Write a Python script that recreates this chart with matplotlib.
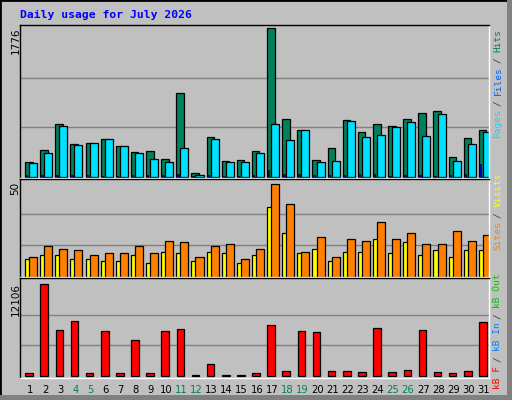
import matplotlib
matplotlib.use("Agg")
import matplotlib.pyplot as plt
from matplotlib.patches import Rectangle

days = list(range(1, 32))
hits = [183,326,635,397,409,457,365,302,314,218,1004,52,480,195,206,314,
        1776,695,564,206,349,683,540,635,611,695,766,790,242,469,564]
files = [171,290,611,385,409,457,365,290,218,183,349,28,457,183,183,290,
         635,445,564,183,195,671,480,504,599,659,492,754,195,397,540]
pages = [20,25,25,20,20,15,15,25,20,25,30,10,25,15,15,20,
         87,40,30,25,20,20,30,35,15,20,25,15,20,30,150]
visits = [9.2,11.3,11.3,9.2,9.2,8.2,8.2,11.3,7.1,12.9,12.4,8.2,12.9,12.4,7.1,11.3,
          36.9,23,12.4,15,8.2,12.9,12.9,19.9,12.4,18.3,11.3,14,10.3,14,14]
sites = [10.3,16.1,15,14,11.3,12.4,12.4,16.1,12.4,18.8,18.3,10.3,16.1,17.2,9.2,15,
         49.1,38.5,12.9,20.9,10.3,19.9,18.8,28.9,19.9,23,17.2,17.2,24.1,18.8,22]
kbytes = [310,12106,6010,7200,310,5880,310,4690,310,5880,6140,130,1500,130,130,310,
          6670,575,5880,5750,575,575,440,6280,440,710,6010,440,310,575,7070]
weekends = [4,5,11,12,18,19,25,26]
max_hits, max_visits, max_kb = 1776, 50, 12106

W, H = 512, 400
fig = plt.figure(figsize=(W/100, H/100), dpi=100)
fig.patch.set_facecolor("#C0C0C0")
fig.patches.append(Rectangle((0, 0), 1, 1, transform=fig.transFigure, fill=False,
                             edgecolor="black", lw=2))
fig.patches.append(Rectangle((507/W, 0), 5/W, 1, transform=fig.transFigure,
                             facecolor="#808080", edgecolor="none"))
fig.patches.append(Rectangle((0, 0), 1, 5/H, transform=fig.transFigure,
                             facecolor="#808080", edgecolor="none"))

def mkax(y0, y1):
    ax = fig.add_axes([20/W, 1-y1/H, 469/W, (y1-y0)/H])
    ax.set_facecolor("#C0C0C0")
    ax.set_xlim(0.25, 31.25)
    ax.set_xticks([]); ax.set_yticks([])
    for s in ax.spines.values():
        s.set_color("black"); s.set_linewidth(1)
    ax.spines["bottom"].set_color("white")
    ax.spines["right"].set_color("white")
    return ax

ek = dict(edgecolor="black", linewidth=0.9, align="edge")

ax1 = mkax(25, 178)
ax1.set_ylim(-12, 1812)
for g in (max_hits/3, 2*max_hits/3):
    ax1.axhline(g, color="#808080", lw=1, zorder=0)
ax1.bar([d-0.42 for d in days], hits, 0.5, color="#00805C", **ek)
ax1.bar([d-0.15 for d in days], files, 0.53, color="#00E0FF", **ek)
ax1.bar([d-0.38 for d in days], pages, 0.12, color="#0000C0", edgecolor="black", linewidth=0.5, align="edge")

ax2 = mkax(179, 277)
ax2.set_ylim(-0.16, 52)
for g in (max_visits/3, 2*max_visits/3):
    ax2.axhline(g, color="#808080", lw=1, zorder=0)
ax2.bar([d-0.42 for d in days], visits, 0.42, color="#FFFF00", **ek)
ax2.bar([d-0.15 for d in days], sites, 0.53, color="#FF8000", **ek)

ax3 = mkax(278, 378)
ax3.set_ylim(-305, 12940)
for g in (max_kb/3, 2*max_kb/3):
    ax3.axhline(g, color="#808080", lw=1, zorder=0)
ax3.bar([d-0.4 for d in days], kbytes, 0.5, color="#FF0000", **ek)
for d in days:
    ax3.text(d-0.1, -0.12, str(d), transform=ax3.get_xaxis_transform(),
             ha="center", va="center", fontsize=7.2, family="DejaVu Sans",
             color="#00805C" if d in weekends else "black")

fig.text(20/W, 1-15/H, "Daily usage for July 2026", color="#0000FF",
         family="DejaVu Sans Mono", weight="bold", fontsize=8.2, va="center", ha="left")

for lab, y in ((str(max_hits), 28), (str(max_visits), 182), (str(max_kb), 283)):
    fig.text(15.5/W, 1-y/H, lab, rotation=90, ha="center", va="top",
             fontsize=7.5, family="DejaVu Sans")

def vlabel(parts, ybottom):
    cw = 5.4
    pos = ybottom
    for i, (txt, col) in enumerate(parts):
        if i:
            fig.text(498/W, 1-(pos-1.5*cw)/H, "/", rotation=90, ha="center",
                     va="center", color="#404040", family="DejaVu Sans Mono",
                     fontsize=6.8)
            pos -= 3*cw
        fig.text(498/W, 1-pos/H, txt, rotation=90, ha="center", va="bottom",
                 color=col, family="DejaVu Sans Mono", fontsize=6.8)
        pos -= cw*len(txt)

vlabel([("Pages", "#00E0FF"), ("Files", "#0060FF"), ("Hits", "#00805C")], 138)
vlabel([("Sites", "#FF8000"), ("Visits", "#FFFF00")], 250)
vlabel([("kB F", "#FF0000"), ("kB In", "#0080FF"), ("kB Out", "#00C000")], 389)

fig.savefig("out.png", dpi=100, facecolor=fig.get_facecolor())
